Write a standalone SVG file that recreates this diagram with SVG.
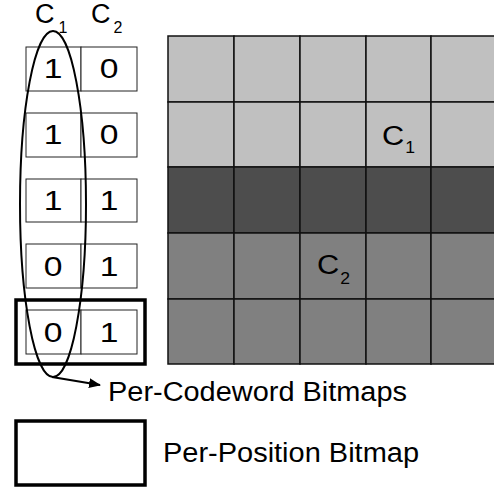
<svg xmlns="http://www.w3.org/2000/svg" width="494" height="490" viewBox="0 0 494 490">
<style>
text{font-family:"Liberation Sans",Arial,sans-serif;fill:#000}
.cell{stroke:#111;stroke-width:1.5}
.l{fill:#c0c0c0}.d{fill:#4d4d4d}.m{fill:#808080}
.bit{fill:#fff;stroke:#222;stroke-width:1}
.dig{text-anchor:middle;font-size:28px}
.thick{fill:none;stroke:#000;stroke-width:3.5}
</style>
<defs>
<marker id="ah" markerWidth="12" markerHeight="10" refX="11" refY="5" orient="auto" markerUnits="userSpaceOnUse">
<path d="M0,0 L12,5 L0,10 Z" fill="#000"/>
</marker>
</defs>
<rect width="494" height="490" fill="#fff"/>
<g id="grid">
<g class="l">
<rect class="cell" x="168" y="36" width="66" height="66"/><rect class="cell" x="234" y="36" width="66" height="66"/><rect class="cell" x="300" y="36" width="66" height="66"/><rect class="cell" x="366" y="36" width="65" height="66"/><rect class="cell" x="431" y="36" width="66" height="66"/>
<rect class="cell" x="168" y="102" width="66" height="65"/><rect class="cell" x="234" y="102" width="66" height="65"/><rect class="cell" x="300" y="102" width="66" height="65"/><rect class="cell" x="366" y="102" width="65" height="65"/><rect class="cell" x="431" y="102" width="66" height="65"/>
</g>
<g class="d">
<rect class="cell" x="168" y="167" width="66" height="66"/><rect class="cell" x="234" y="167" width="66" height="66"/><rect class="cell" x="300" y="167" width="66" height="66"/><rect class="cell" x="366" y="167" width="65" height="66"/><rect class="cell" x="431" y="167" width="66" height="66"/>
</g>
<g class="m">
<rect class="cell" x="168" y="233" width="66" height="66"/><rect class="cell" x="234" y="233" width="66" height="66"/><rect class="cell" x="300" y="233" width="66" height="66"/><rect class="cell" x="366" y="233" width="65" height="66"/><rect class="cell" x="431" y="233" width="66" height="66"/>
<rect class="cell" x="168" y="299" width="66" height="65"/><rect class="cell" x="234" y="299" width="66" height="65"/><rect class="cell" x="300" y="299" width="66" height="65"/><rect class="cell" x="366" y="299" width="65" height="65"/><rect class="cell" x="431" y="299" width="66" height="65"/>
</g>
<text font-size="28" transform="translate(382,145) scale(1.1,1)">C<tspan font-size="16" dx="1" dy="8">1</tspan></text>
<text font-size="28" transform="translate(317,274) scale(1.1,1)">C<tspan font-size="16" dx="1" dy="10">2</tspan></text>
</g>
<g id="headers">
<text font-size="27" x="35" y="23">C<tspan font-size="16" dx="4" dy="10">1</tspan></text>
<text font-size="27" x="91" y="23">C<tspan font-size="16" dx="3" dy="10">2</tspan></text>
</g>
<g id="bitmaps">
<g id="row1"><rect class="bit" x="26" y="47" width="55" height="44"/><rect class="bit" x="81" y="47" width="56" height="44"/><text class="dig" textLength="18.7" lengthAdjust="spacingAndGlyphs" x="53" y="78">1</text><text class="dig" textLength="18.7" lengthAdjust="spacingAndGlyphs" x="109" y="78">0</text></g>
<g id="row2"><rect class="bit" x="26" y="113" width="55" height="44"/><rect class="bit" x="81" y="113" width="56" height="44"/><text class="dig" textLength="18.7" lengthAdjust="spacingAndGlyphs" x="53" y="144">1</text><text class="dig" textLength="18.7" lengthAdjust="spacingAndGlyphs" x="109" y="144">0</text></g>
<g id="row3"><rect class="bit" x="26" y="179" width="55" height="43"/><rect class="bit" x="81" y="179" width="56" height="43"/><text class="dig" textLength="18.7" lengthAdjust="spacingAndGlyphs" x="53" y="210">1</text><text class="dig" textLength="18.7" lengthAdjust="spacingAndGlyphs" x="109" y="210">1</text></g>
<g id="row4"><rect class="bit" x="26" y="244" width="55" height="44"/><rect class="bit" x="81" y="244" width="56" height="44"/><text class="dig" textLength="18.7" lengthAdjust="spacingAndGlyphs" x="53" y="276">0</text><text class="dig" textLength="18.7" lengthAdjust="spacingAndGlyphs" x="109" y="276">1</text></g>
<g id="row5"><rect class="bit" x="26" y="310" width="55" height="44"/><rect class="bit" x="81" y="310" width="56" height="44"/><text class="dig" textLength="18.7" lengthAdjust="spacingAndGlyphs" x="53" y="342">0</text><text class="dig" textLength="18.7" lengthAdjust="spacingAndGlyphs" x="109" y="342">1</text></g>
</g>
<g id="position-box"><rect class="thick" x="16" y="300" width="129" height="64"/></g>
<g id="codeword-ellipse"><ellipse cx="53" cy="204" rx="33" ry="173" fill="none" stroke="#000" stroke-width="2"/></g>
<g id="connectors">
<line x1="52" y1="377" x2="100" y2="385" stroke="#000" stroke-width="2" marker-end="url(#ah)"/>
</g>
<g id="legend">
<text font-size="27" x="108" y="401" textLength="299" lengthAdjust="spacingAndGlyphs">Per-Codeword Bitmaps</text>
<rect class="thick" x="16" y="421" width="129" height="64"/>
<text font-size="27" x="163" y="462" textLength="256" lengthAdjust="spacingAndGlyphs">Per-Position Bitmap</text>
</g>
</svg>
